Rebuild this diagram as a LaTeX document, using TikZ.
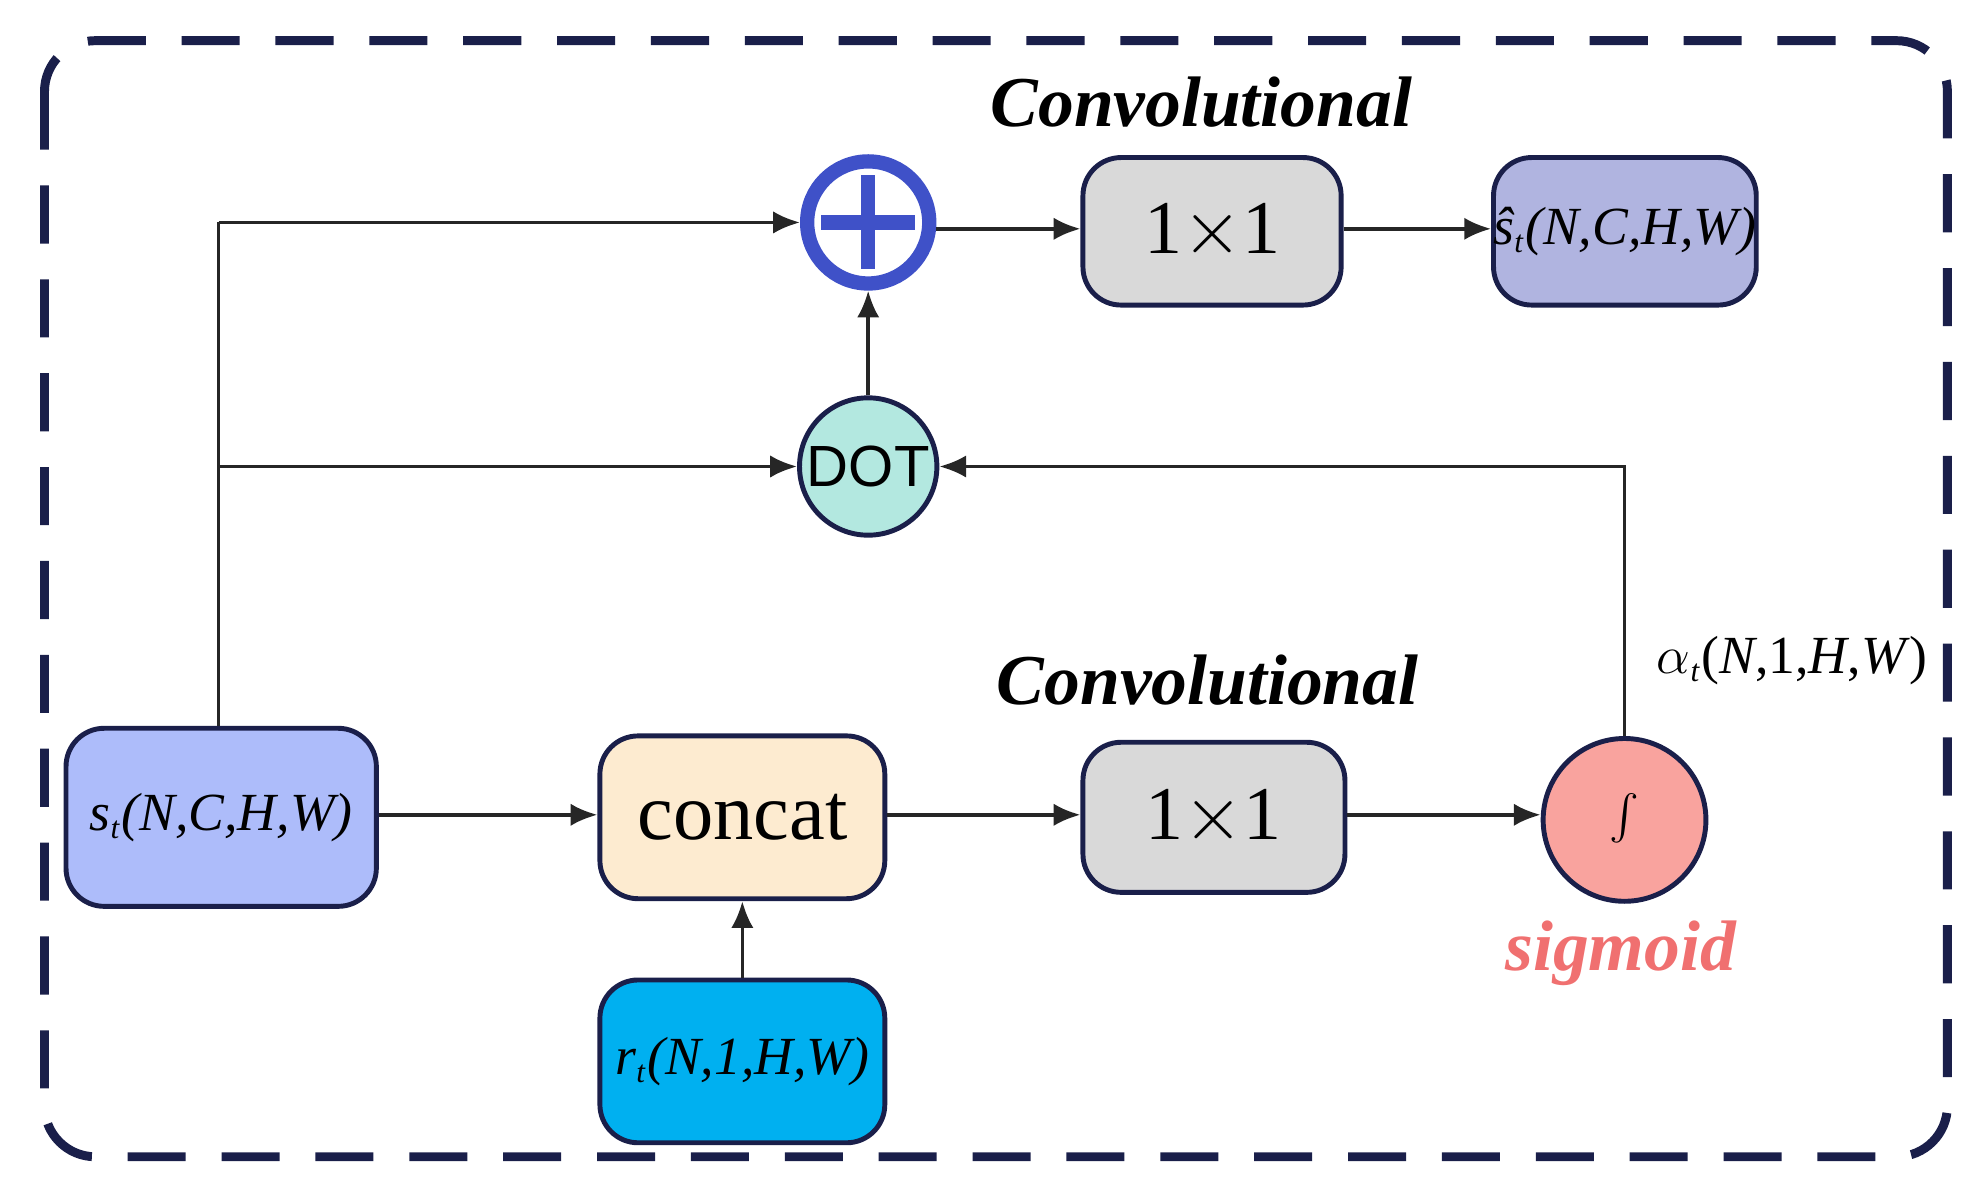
\documentclass[tikz,border=0pt]{standalone}
\usepackage{fontspec}
\setmainfont{Liberation Serif}
\newfontfamily\sansf{Liberation Sans}
\usetikzlibrary{arrows.meta}
\definecolor{navy}{HTML}{1A1F4A}
\definecolor{gbox}{HTML}{D9D9D9}
\definecolor{shat}{HTML}{B0B4E0}
\definecolor{dotc}{HTML}{B3E8E0}
\definecolor{sbox}{HTML}{ADBCFA}
\definecolor{cbox}{HTML}{FDEBD0}
\definecolor{sigc}{HTML}{F9A39E}
\definecolor{rbox}{HTML}{00B0F0}
\definecolor{plusc}{HTML}{3F51C8}
\definecolor{sigt}{HTML}{F07070}
\newcommand{\mysubt}[1]{\textsubscript{\scriptsize #1}}
\begin{document}
\begin{tikzpicture}[x=0.01cm,y=-0.01cm,
  box/.style={draw=navy,line width=1.1pt,rounded corners=0.3cm,inner sep=0pt,anchor=north west},
  arr/.style={-{Latex[length=6pt,width=5pt]},line width=0.8pt,black!85},
  lab/.style={font=\fontsize{12}{14}\selectfont\itshape},
  conv/.style={font=\fontsize{16}{18}\selectfont\bfseries\itshape}]
\useasboundingbox (0,0) rectangle (1560,937);
\draw[navy,line width=2pt,dash pattern=on 13pt off 8pt,rounded corners=0.4cm] (35,32) rectangle (1532,910);
\node[conv] (c1) at (945,80) {Convolutional};
\node[conv] (c2) at (950,535) {Convolutional};
\node[box,fill=gbox,minimum width=2.03cm,minimum height=1.16cm,font=\fontsize{17}{18}\selectfont] (k1) at (850,122) {1$\times$1};
\node[box,fill=shat,minimum width=2.05cm,minimum height=1.16cm,lab] (sh) at (1173,122) {\^{s}\mysubt{t}(N,C,H,W)};
\node[box,fill=sbox,minimum width=2.44cm,minimum height=1.4cm,lab] (s) at (50,571) {s\mysubt{t}(N,C,H,W)};
\node[box,fill=cbox,minimum width=2.24cm,minimum height=1.28cm,font=\fontsize{18}{20}\selectfont] (cc) at (470,577) {concat};
\node[box,fill=gbox,minimum width=2.06cm,minimum height=1.18cm,font=\fontsize{17}{18}\selectfont] (k2) at (850,582) {1$\times$1};
\node[box,fill=rbox,minimum width=2.24cm,minimum height=1.28cm,lab] (r) at (470,769) {r\mysubt{t}(N,1,H,W)};
\node[circle,draw=plusc,line width=3.2pt,minimum size=0.96cm,inner sep=0pt] (p) at (683,175) {};
\draw[plusc,line width=3.2pt] (p.center) ++(-37,0) -- ++(74,0) (p.center) ++(0,-37) -- ++(0,74);
\node[circle,draw=navy,line width=1.1pt,fill=dotc,minimum size=1.08cm,inner sep=0pt,font=\sansf\fontsize{13}{14}\selectfont] (d) at (683,367) {DOT};
\node[circle,draw=navy,line width=1.1pt,fill=sigc,minimum size=1.28cm,inner sep=0pt] (sg) at (1278,645) {\fontsize{36}{36}\selectfont$\int$};
\node[font=\fontsize{16}{18}\selectfont\bfseries\itshape,text=sigt] (sgt) at (1275,750) {sigmoid};
\node[font=\fontsize{12}{14}\selectfont] (al) at (1410,520) {$\alpha$\mysubt{\itshape t}(\textit{N},1,\textit{H},\textit{W})};
\coordinate (j1) at (172,175);
\coordinate (j2) at (172,367);
\coordinate (j3) at (1278,367);
\draw[line width=0.8pt,black!85] (s.north -| j1) -- (j1);
\draw[arr] (j1) -- (p);
\draw[arr] (j2) -- (d);
\draw[arr] (sg) -- (j3) -- (d);
\draw[arr] (d) -- (p);
\draw[arr] (p.east |- 0,180) -- (k1.west |- 0,180);
\draw[arr] (k1.east |- 0,180) -- (sh.west |- 0,180);
\draw[arr] (s.east |- 0,641) -- (cc.west |- 0,641);
\draw[arr] (cc.east |- 0,641) -- (k2.west |- 0,641);
\draw[arr] (k2.east |- 0,641) -- (sg.west |- 0,641);
\draw[arr] (r) -- (cc);
\end{tikzpicture}
\end{document}
